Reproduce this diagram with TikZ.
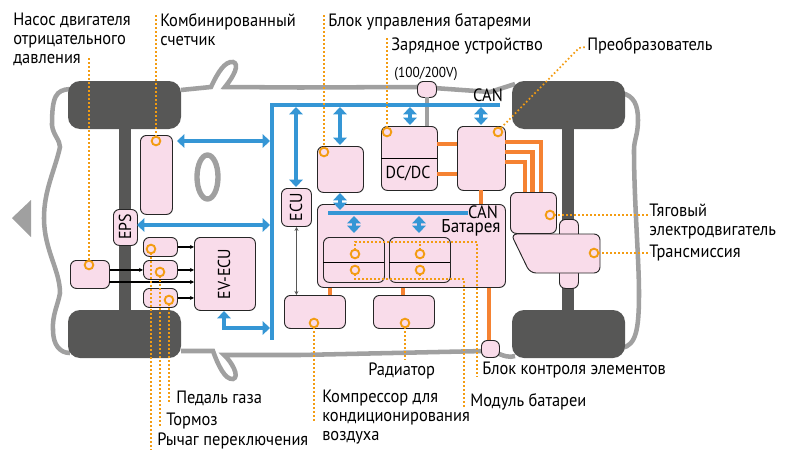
\documentclass[tikz,border=0pt]{standalone}
\usepackage{fontspec}
\setmainfont[FakeStretch=0.92]{PT Sans}
\usetikzlibrary{arrows.meta}
\definecolor{pk}{HTML}{F9DCEA}
\definecolor{blu}{HTML}{3596D5}
\definecolor{org}{HTML}{F58232}
\definecolor{dotc}{HTML}{F39C12}
\definecolor{gr}{HTML}{A0A0A0}
\definecolor{dk}{HTML}{575756}
\tikzset{
 x=0.75pt,y=-0.75pt,
 box/.style={draw=black!85,line width=0.7pt,fill=pk,rounded corners=4.5pt},
 wheel/.style={fill=dk,rounded corners=9pt},
 bl/.style={draw=blu,line width=3pt},
 dbl/.style={draw=blu,line width=3pt,{Triangle[width=10pt,length=5.5pt]}-{Triangle[width=10pt,length=5.5pt]}},
 sarr/.style={draw=black,line width=0.8pt,-{Stealth[length=3pt,width=3pt]}},
 orl/.style={draw=org,line width=3.2pt},
 carline/.style={draw=gr,line width=3.4pt},
 dotl/.style={draw=dotc,line width=1.3pt,dash pattern=on 1.2pt off 1.8pt},
 ring/.style={circle,draw=dotc,line width=1.4pt,inner sep=0pt,minimum size=6.5pt},
 lab/.style={inner sep=0pt,font=\fontsize{13.4}{14.25}\selectfont,align=left,anchor=west},
 inl/.style={inner sep=0pt,font=\fontsize{13}{14}\selectfont},
}
\newcommand{\boxat}[4]{\node[box,minimum width=#3*0.75pt,minimum height=#4*0.75pt,inner sep=0pt,anchor=north west] (#1) at #2 {};}
\begin{document}
\begin{tikzpicture}
\useasboundingbox (0,0) rectangle (794,450);
% outline
\draw[carline] (70,89) .. controls (56,90) and (52,96) .. (52,125) .. controls (53,135) and (60,140) .. (60,147) .. controls (55,170) and (44,190) .. (44,218) .. controls (44,250) and (60,270) .. (60,293) .. controls (58,305) and (52,315) .. (53,330) .. controls (53,345) and (60,353) .. (70,353);
\draw[carline] (181,90) -- (211,87) .. controls (218,72) and (225,61) .. (233,62) .. controls (240,64) and (234,76) .. (225,87) -- (300,87.5) -- (420,87) -- (490,92) -- (515,84);
\draw[carline] (181,351) -- (213,351) .. controls (218,365) and (225,380) .. (233,379) .. controls (240,377) and (232,362) .. (224,355) -- (300,355) -- (485,351);
\draw[carline] (495,352) .. controls (503,356) and (510,358) .. (515,356);
\draw[carline] (622,93) .. controls (634,96) and (638,105) .. (638,120) .. controls (638,135) and (634,140) .. (634,150) .. controls (634,200) and (639,260) .. (639,293) .. controls (639,330) and (636,345) .. (622,348);
\draw[carline,line width=4pt] (207.5,177) ellipse [x radius=10.5,y radius=22];
\fill[gr] (12,218) -- (31,200) -- (31,237) -- cycle;
% wheels and axles
\fill[dk] (119,125) rectangle (131,315);
\fill[dk] (562,125) rectangle (574,315);
\fill[wheel] (68,81) rectangle (181,129);
\fill[wheel] (68,310) rectangle (181,358);
\fill[wheel] (512,81) rectangle (625,129);
\fill[wheel] (512,310) rectangle (625,358);
% boxes
\boxat{cnt}{(140,135)}{32}{79}
\boxat{eps}{(113,209)}{24}{36}
\boxat{sa}{(143,237)}{34}{19}
\boxat{sb}{(143,260)}{34}{19}
\boxat{sc}{(143,288)}{34}{19}
\boxat{pump}{(70,260)}{39}{28}
\boxat{evecu}{(194,237)}{61}{73}
\boxat{ecu}{(281,188)}{30}{38}
\boxat{bms}{(317,146)}{46}{46}
\boxat{chg}{(381,126)}{56}{64}
\boxat{inv}{(457,126)}{48}{64}
\boxat{bat}{(317,204)}{188}{83}
\boxat{moda}{(323,237)}{61}{45}
\boxat{modb}{(389,237)}{61}{45}
\boxat{comp}{(284,295)}{61}{33}
\boxat{rad}{(373,295)}{61}{33}
\boxat{cell}{(481,340)}{18}{17}
\boxat{volt}{(417,81)}{19}{16}
\boxat{stub}{(559,219)}{19}{69}
\boxat{motor}{(510,192)}{46}{41}
\draw[box] (511,234) -- (600,234) -- (600,273) -- (530,273) -- cycle;
% orange connections
\draw[orl] (437,144) -- (457,144);
\draw[orl] (437,174) -- (457,174);
\draw[orl] (481,190) -- (481,204);
\draw[orl] (505,142) -- (541,142) -- (541,192);
\draw[orl] (505,152) -- (532.5,152) -- (532.5,192);
\draw[orl] (505,162) -- (525,162) -- (525,192);
\draw[orl] (330,287.5) -- (330,295);
\draw[orl] (403,287.5) -- (403,295);
\draw[orl] (489,287.5) -- (489,340);
\draw[carline] (427,97) -- (427,126);
\draw[black,line width=0.7pt] (381,158) -- (437,158);
\draw[black,line width=0.7pt] (323,262) -- (384,262);
\draw[black,line width=0.7pt] (389,262) -- (450,262);
% blue bus
\draw[bl] (500,105) -- (272,105) -- (272,340);
\draw[bl] (328,213) -- (468,213);
\draw[dbl] (177,141) -- (270,141);
\draw[dbl] (137,225) -- (270,225);
\draw[dbl] (224,311) -- (224,328) -- (270,328);
\draw[dbl] (296,107) -- (296,187);
\draw[dbl] (340,107) -- (340,145);
\draw[dbl] (410,107) -- (410,125);
\draw[dbl] (481,107) -- (481,125);
\draw[dbl] (340,193) -- (340,210);
\draw[dbl] (354,216) -- (354,233);
\draw[dbl] (419,216) -- (419,233);
% black
\draw[sarr] (pump.east|-sb.west) -- (sb.west);
\draw[sarr] (109,282) -- (194,282);
\draw[sarr] (sa.east) -- (evecu.west|-sa.east);
\draw[sarr] (sb.east) -- (evecu.west|-sb.east);
\draw[sarr] (sc.east) -- (evecu.west|-sc.east);
\draw[draw=dk,line width=0.8pt,{Stealth[length=3pt,width=3pt]}-{Stealth[length=3pt,width=3pt]}] (ecu.south) -- (ecu.south|-comp.north);
% inside text
\node[inl,rotate=90] at (125,227) {EPS};
\node[inl,rotate=90] at (224,274) {EV-ECU};
\node[inl,rotate=90] at (296,207) {ECU};
\node[inl] at (408,174) {DC/DC};
\node[inl,font=\fontsize{13.4}{14}\selectfont] at (483,212) {CAN};
\node[inl,font=\fontsize{13.9}{15}\selectfont] at (471,228) {Батарея};
\node[inl,font=\fontsize{13.4}{14}\selectfont] at (488,95) {CAN};
\node[inl,font=\fontsize{10.8}{12}\selectfont] at (426,74) {(100/200V)};
% dotted
\draw[dotl] (89,58) -- (89,261);
\draw[dotl] (156,15) -- (156,137);
\draw[dotl] (324,15) -- (324,148);
\draw[dotl] (387,38) -- (387,128);
\draw[dotl] (501,128) -- (579,48) -- (586,47);
\draw[dotl] (554,215) -- (650,215);
\draw[dotl] (598,253) -- (650,253);
\draw[dotl] (314,327) -- (314,422);
\draw[dotl] (405,327) -- (405,360);
\draw[dotl] (355,250) -- (355,242) -- (477,242) -- (477,377);
\draw[dotl] (420,250) -- (420,242);
\draw[dotl] (355,274) -- (355,279) -- (464,279) -- (464,407);
\draw[dotl] (420,274) -- (420,279);
\draw[dotl] (151,253) -- (151,450);
\draw[dotl] (160,276) -- (160,427);
\draw[dotl] (169,304) -- (169,403);
% rings
\foreach \n/\p in {r1/{(156,141)},r2/{(89,265)},r3/{(151,249)},r4/{(160,272)},r5/{(169,300)},r6/{(324,152)},r7/{(387,132)},r8/{(498,132)},r9/{(355,254)},r10/{(355,270)},r11/{(420,254)},r12/{(420,270)},r13/{(314,323)},r14/{(405,323)},r15/{(550,215)},r16/{(594,253)}}
  \node[ring] (\n) at \p {};
% labels
\node[lab,anchor=north west] at (13,13) {Насос двигателя\\отрицательного\\давления};
\node[lab,anchor=north west] at (160,13) {Комбинированный\\счетчик};
\node[lab] at (328,22) {Блок управления батареями};
\node[lab] at (391,46) {Зарядное устройство};
\node[lab] at (587,46) {Преобразователь};
\node[lab,anchor=north west] at (649,204) {Тяговый\\электродвигатель};
\node[lab] at (649,253) {Трансмиссия};
\node[lab] at (368,371) {Радиатор};
\node[lab] at (482,370) {Блок контроля элементов};
\node[lab] at (176,398) {Педаль газа};
\node[lab] at (166,421) {Тормоз};
\node[lab] at (157,441) {Рычаг переключения};
\node[lab,anchor=north west] at (322,390) {Компрессор для\\кондиционирования\\воздуха};
\node[lab] at (470,402) {Модуль батареи};
\end{tikzpicture}
\end{document}
